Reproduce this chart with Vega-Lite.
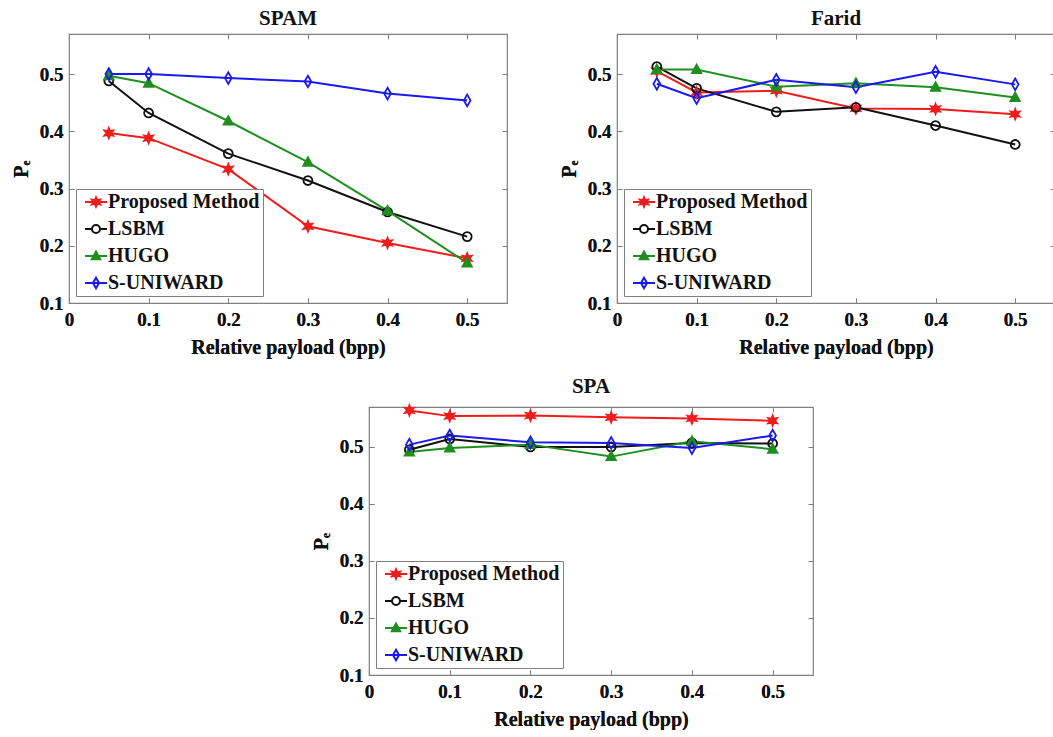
{
  "$schema": "https://vega.github.io/schema/vega-lite/v6.json",
  "padding": {"left": 10, "top": 6, "right": 0, "bottom": 0},
  "background": "white",
  "data": {"values": [
    {"panel":"SPAM","method":"Proposed Method","payload":0.05,"pe":0.397},
    {"panel":"SPAM","method":"Proposed Method","payload":0.1,"pe":0.388},
    {"panel":"SPAM","method":"Proposed Method","payload":0.2,"pe":0.334},
    {"panel":"SPAM","method":"Proposed Method","payload":0.3,"pe":0.234},
    {"panel":"SPAM","method":"Proposed Method","payload":0.4,"pe":0.205},
    {"panel":"SPAM","method":"Proposed Method","payload":0.5,"pe":0.178},
    {"panel":"SPAM","method":"LSBM","payload":0.05,"pe":0.488},
    {"panel":"SPAM","method":"LSBM","payload":0.1,"pe":0.432},
    {"panel":"SPAM","method":"LSBM","payload":0.2,"pe":0.361},
    {"panel":"SPAM","method":"LSBM","payload":0.3,"pe":0.314},
    {"panel":"SPAM","method":"LSBM","payload":0.4,"pe":0.259},
    {"panel":"SPAM","method":"LSBM","payload":0.5,"pe":0.216},
    {"panel":"SPAM","method":"HUGO","payload":0.05,"pe":0.497},
    {"panel":"SPAM","method":"HUGO","payload":0.1,"pe":0.484},
    {"panel":"SPAM","method":"HUGO","payload":0.2,"pe":0.418},
    {"panel":"SPAM","method":"HUGO","payload":0.3,"pe":0.346},
    {"panel":"SPAM","method":"HUGO","payload":0.4,"pe":0.261},
    {"panel":"SPAM","method":"HUGO","payload":0.5,"pe":0.170},
    {"panel":"SPAM","method":"S-UNIWARD","payload":0.05,"pe":0.500},
    {"panel":"SPAM","method":"S-UNIWARD","payload":0.1,"pe":0.500},
    {"panel":"SPAM","method":"S-UNIWARD","payload":0.2,"pe":0.493},
    {"panel":"SPAM","method":"S-UNIWARD","payload":0.3,"pe":0.487},
    {"panel":"SPAM","method":"S-UNIWARD","payload":0.4,"pe":0.466},
    {"panel":"SPAM","method":"S-UNIWARD","payload":0.5,"pe":0.454},
    {"panel":"Farid","method":"Proposed Method","payload":0.05,"pe":0.505},
    {"panel":"Farid","method":"Proposed Method","payload":0.1,"pe":0.468},
    {"panel":"Farid","method":"Proposed Method","payload":0.2,"pe":0.471},
    {"panel":"Farid","method":"Proposed Method","payload":0.3,"pe":0.440},
    {"panel":"Farid","method":"Proposed Method","payload":0.4,"pe":0.439},
    {"panel":"Farid","method":"Proposed Method","payload":0.5,"pe":0.430},
    {"panel":"Farid","method":"LSBM","payload":0.05,"pe":0.513},
    {"panel":"Farid","method":"LSBM","payload":0.1,"pe":0.475},
    {"panel":"Farid","method":"LSBM","payload":0.2,"pe":0.434},
    {"panel":"Farid","method":"LSBM","payload":0.3,"pe":0.442},
    {"panel":"Farid","method":"LSBM","payload":0.4,"pe":0.410},
    {"panel":"Farid","method":"LSBM","payload":0.5,"pe":0.377},
    {"panel":"Farid","method":"HUGO","payload":0.05,"pe":0.508},
    {"panel":"Farid","method":"HUGO","payload":0.1,"pe":0.508},
    {"panel":"Farid","method":"HUGO","payload":0.2,"pe":0.478},
    {"panel":"Farid","method":"HUGO","payload":0.3,"pe":0.484},
    {"panel":"Farid","method":"HUGO","payload":0.4,"pe":0.477},
    {"panel":"Farid","method":"HUGO","payload":0.5,"pe":0.459},
    {"panel":"Farid","method":"S-UNIWARD","payload":0.05,"pe":0.483},
    {"panel":"Farid","method":"S-UNIWARD","payload":0.1,"pe":0.458},
    {"panel":"Farid","method":"S-UNIWARD","payload":0.2,"pe":0.490},
    {"panel":"Farid","method":"S-UNIWARD","payload":0.3,"pe":0.477},
    {"panel":"Farid","method":"S-UNIWARD","payload":0.4,"pe":0.504},
    {"panel":"Farid","method":"S-UNIWARD","payload":0.5,"pe":0.482},
    {"panel":"SPA","method":"Proposed Method","payload":0.05,"pe":0.564},
    {"panel":"SPA","method":"Proposed Method","payload":0.1,"pe":0.554},
    {"panel":"SPA","method":"Proposed Method","payload":0.2,"pe":0.555},
    {"panel":"SPA","method":"Proposed Method","payload":0.3,"pe":0.552},
    {"panel":"SPA","method":"Proposed Method","payload":0.4,"pe":0.550},
    {"panel":"SPA","method":"Proposed Method","payload":0.5,"pe":0.546},
    {"panel":"SPA","method":"LSBM","payload":0.05,"pe":0.495},
    {"panel":"SPA","method":"LSBM","payload":0.1,"pe":0.514},
    {"panel":"SPA","method":"LSBM","payload":0.2,"pe":0.500},
    {"panel":"SPA","method":"LSBM","payload":0.3,"pe":0.500},
    {"panel":"SPA","method":"LSBM","payload":0.4,"pe":0.507},
    {"panel":"SPA","method":"LSBM","payload":0.5,"pe":0.506},
    {"panel":"SPA","method":"HUGO","payload":0.05,"pe":0.491},
    {"panel":"SPA","method":"HUGO","payload":0.1,"pe":0.498},
    {"panel":"SPA","method":"HUGO","payload":0.2,"pe":0.504},
    {"panel":"SPA","method":"HUGO","payload":0.3,"pe":0.483},
    {"panel":"SPA","method":"HUGO","payload":0.4,"pe":0.510},
    {"panel":"SPA","method":"HUGO","payload":0.5,"pe":0.496},
    {"panel":"SPA","method":"S-UNIWARD","payload":0.05,"pe":0.504},
    {"panel":"SPA","method":"S-UNIWARD","payload":0.1,"pe":0.520},
    {"panel":"SPA","method":"S-UNIWARD","payload":0.2,"pe":0.508},
    {"panel":"SPA","method":"S-UNIWARD","payload":0.3,"pe":0.507},
    {"panel":"SPA","method":"S-UNIWARD","payload":0.4,"pe":0.498},
    {"panel":"SPA","method":"S-UNIWARD","payload":0.5,"pe":0.520}
  ]},
  "resolve": {"scale": {"color": "independent"}, "legend": {"color": "independent"}},
  "spacing": 17,
  "vconcat": [
    {
      "spacing": 49,
      "resolve": {"scale": {"color": "independent"}, "legend": {"color": "independent"}},
      "hconcat": [
        {
          "title": {"text": "SPAM"},
          "width": 438, "height": 269,
          "transform": [{"filter": "datum.panel === 'SPAM'"}],
          "encoding": {
            "x": {"field": "payload", "type": "quantitative", "scale": {"domain": [0, 0.55], "nice": false, "zero": false}, "axis": {"values": [0, 0.1, 0.2, 0.3, 0.4, 0.5], "format": "~g", "title": "Relative payload (bpp)"}},
            "y": {"field": "pe", "type": "quantitative", "scale": {"domain": [0.1, 0.57], "nice": false, "zero": false}, "axis": {"values": [0.1, 0.2, 0.3, 0.4, 0.5], "format": ".1f", "title": "Pₑ"}}
          },
          "resolve": {"axis": {"x": "independent", "y": "independent"}},
          "layer": [
            {"mark": {"type": "point", "opacity": 0},
             "encoding": {
               "x": {"field": "payload", "type": "quantitative", "axis": {"orient": "top", "values": [0, 0.1, 0.2, 0.3, 0.4, 0.5], "labels": false, "title": null}},
               "y": {"field": "pe", "type": "quantitative", "axis": {"orient": "right", "values": [0.1, 0.2, 0.3, 0.4, 0.5], "labels": false, "title": null}}
             }},
            {"mark": {"type": "line", "strokeWidth": 2},
             "encoding": {"color": {"field": "method", "type": "nominal",
               "scale": {"domain": ["Proposed Method", "LSBM", "HUGO", "S-UNIWARD"], "range": ["#f01c1c", "#111111", "#1f8f1f", "#1a1aee"]},
               "legend": {"orient": "bottom-left", "offset": 7, "title": null, "direction": "vertical",
                 "encode": {"symbols": {"update": {
                   "shape": {"signal": "datum.value === 'Proposed Method' ? 'M-2.75,0H2.75M0,-1.15L0.27,-0.46L1,-0.58L0.53,0L1,0.58L0.27,0.46L0,1.15L-0.27,0.46L-1,0.58L-0.53,0L-1,-0.58L-0.27,-0.46Z' : datum.value === 'LSBM' ? 'M-2.75,0H-1M1,0H2.75M-1,0A1,1 0 1,1 1,0A1,1 0 1,1 -1,0Z' : datum.value === 'HUGO' ? 'M-2.75,0H2.75M0,-1.1L1.05,0.8L-1.05,0.8Z' : 'M-2.75,0H2.75M0,-1.3L0.75,0L0,1.3L-0.75,0Z'"},
                   "fill": {"signal": "datum.value === 'Proposed Method' ? '#f01c1c' : datum.value === 'HUGO' ? '#1f8f1f' : 'transparent'"},
                   "stroke": {"signal": "datum.value === 'Proposed Method' ? '#f01c1c' : datum.value === 'LSBM' ? '#111111' : datum.value === 'HUGO' ? '#1f8f1f' : '#1a1aee'"},
                   "strokeWidth": {"value": 2},
                   "opacity": {"value": 1}
                 }}}}}}},
            {"mark": {"type": "point", "filled": false, "strokeWidth": 1.8, "size": 80, "opacity": 1},
             "encoding": {
               "stroke": {"field": "method", "type": "nominal", "scale": {"domain": ["Proposed Method", "LSBM", "HUGO", "S-UNIWARD"], "range": ["#f01c1c", "#111111", "#1f8f1f", "#1a1aee"]}, "legend": null},
               "fill": {"field": "method", "type": "nominal", "scale": {"domain": ["Proposed Method", "LSBM", "HUGO", "S-UNIWARD"], "range": ["#f01c1c", "transparent", "#1f8f1f", "transparent"]}, "legend": null},
               "shape": {"field": "method", "type": "nominal", "scale": {"domain": ["Proposed Method", "LSBM", "HUGO", "S-UNIWARD"], "range": ["M0,-1.15L0.27,-0.46L1,-0.58L0.53,0L1,0.58L0.27,0.46L0,1.15L-0.27,0.46L-1,0.58L-0.53,0L-1,-0.58L-0.27,-0.46Z", "M-1,0A1,1 0 1,1 1,0A1,1 0 1,1 -1,0Z", "M0,-1.1L1.05,0.8L-1.05,0.8Z", "M0,-1.3L0.75,0L0,1.3L-0.75,0Z"]}, "legend": null}
             }}
          ]
        },
        {
          "title": {"text": "Farid"},
          "width": 438, "height": 269,
          "transform": [{"filter": "datum.panel === 'Farid'"}],
          "encoding": {
            "x": {"field": "payload", "type": "quantitative", "scale": {"domain": [0, 0.55], "nice": false, "zero": false}, "axis": {"values": [0, 0.1, 0.2, 0.3, 0.4, 0.5], "format": "~g", "title": "Relative payload (bpp)"}},
            "y": {"field": "pe", "type": "quantitative", "scale": {"domain": [0.1, 0.57], "nice": false, "zero": false}, "axis": {"values": [0.1, 0.2, 0.3, 0.4, 0.5], "format": ".1f", "title": "Pₑ"}}
          },
          "resolve": {"axis": {"x": "independent", "y": "independent"}},
          "layer": [
            {"mark": {"type": "point", "opacity": 0},
             "encoding": {
               "x": {"field": "payload", "type": "quantitative", "axis": {"orient": "top", "values": [0, 0.1, 0.2, 0.3, 0.4, 0.5], "labels": false, "title": null}},
               "y": {"field": "pe", "type": "quantitative", "axis": {"orient": "right", "values": [0.1, 0.2, 0.3, 0.4, 0.5], "labels": false, "title": null}}
             }},
            {"mark": {"type": "line", "strokeWidth": 2},
             "encoding": {"color": {"field": "method", "type": "nominal",
               "scale": {"domain": ["Proposed Method", "LSBM", "HUGO", "S-UNIWARD"], "range": ["#f01c1c", "#111111", "#1f8f1f", "#1a1aee"]},
               "legend": {"orient": "bottom-left", "offset": 7, "title": null, "direction": "vertical",
                 "encode": {"symbols": {"update": {
                   "shape": {"signal": "datum.value === 'Proposed Method' ? 'M-2.75,0H2.75M0,-1.15L0.27,-0.46L1,-0.58L0.53,0L1,0.58L0.27,0.46L0,1.15L-0.27,0.46L-1,0.58L-0.53,0L-1,-0.58L-0.27,-0.46Z' : datum.value === 'LSBM' ? 'M-2.75,0H-1M1,0H2.75M-1,0A1,1 0 1,1 1,0A1,1 0 1,1 -1,0Z' : datum.value === 'HUGO' ? 'M-2.75,0H2.75M0,-1.1L1.05,0.8L-1.05,0.8Z' : 'M-2.75,0H2.75M0,-1.3L0.75,0L0,1.3L-0.75,0Z'"},
                   "fill": {"signal": "datum.value === 'Proposed Method' ? '#f01c1c' : datum.value === 'HUGO' ? '#1f8f1f' : 'transparent'"},
                   "stroke": {"signal": "datum.value === 'Proposed Method' ? '#f01c1c' : datum.value === 'LSBM' ? '#111111' : datum.value === 'HUGO' ? '#1f8f1f' : '#1a1aee'"},
                   "strokeWidth": {"value": 2},
                   "opacity": {"value": 1}
                 }}}}}}},
            {"mark": {"type": "point", "filled": false, "strokeWidth": 1.8, "size": 80, "opacity": 1},
             "encoding": {
               "stroke": {"field": "method", "type": "nominal", "scale": {"domain": ["Proposed Method", "LSBM", "HUGO", "S-UNIWARD"], "range": ["#f01c1c", "#111111", "#1f8f1f", "#1a1aee"]}, "legend": null},
               "fill": {"field": "method", "type": "nominal", "scale": {"domain": ["Proposed Method", "LSBM", "HUGO", "S-UNIWARD"], "range": ["#f01c1c", "transparent", "#1f8f1f", "transparent"]}, "legend": null},
               "shape": {"field": "method", "type": "nominal", "scale": {"domain": ["Proposed Method", "LSBM", "HUGO", "S-UNIWARD"], "range": ["M0,-1.15L0.27,-0.46L1,-0.58L0.53,0L1,0.58L0.27,0.46L0,1.15L-0.27,0.46L-1,0.58L-0.53,0L-1,-0.58L-0.27,-0.46Z", "M-1,0A1,1 0 1,1 1,0A1,1 0 1,1 -1,0Z", "M0,-1.1L1.05,0.8L-1.05,0.8Z", "M0,-1.3L0.75,0L0,1.3L-0.75,0Z"]}, "legend": null}
             }}
          ]
        }
      ]
    },
    {
      "spacing": 0,
      "resolve": {"scale": {"color": "independent"}, "legend": {"color": "independent"}},
      "hconcat": [
        {
          "width": 241, "height": 10,
          "data": {"values": [{"blank": 1}]},
          "mark": {"type": "text", "text": " "},
          "view": {"stroke": null}
        },
        {
          "title": {"text": "SPA"},
          "width": 444, "height": 268,
          "transform": [{"filter": "datum.panel === 'SPA'"}],
          "encoding": {
            "x": {"field": "payload", "type": "quantitative", "scale": {"domain": [0, 0.55], "nice": false, "zero": false}, "axis": {"values": [0, 0.1, 0.2, 0.3, 0.4, 0.5], "format": "~g", "title": "Relative payload (bpp)"}},
            "y": {"field": "pe", "type": "quantitative", "scale": {"domain": [0.1, 0.57], "nice": false, "zero": false}, "axis": {"values": [0.1, 0.2, 0.3, 0.4, 0.5], "format": ".1f", "title": "Pₑ"}}
          },
          "resolve": {"axis": {"x": "independent", "y": "independent"}},
          "layer": [
            {"mark": {"type": "point", "opacity": 0},
             "encoding": {
               "x": {"field": "payload", "type": "quantitative", "axis": {"orient": "top", "values": [0, 0.1, 0.2, 0.3, 0.4, 0.5], "labels": false, "title": null}},
               "y": {"field": "pe", "type": "quantitative", "axis": {"orient": "right", "values": [0.1, 0.2, 0.3, 0.4, 0.5], "labels": false, "title": null}}
             }},
            {"mark": {"type": "line", "strokeWidth": 2},
             "encoding": {"color": {"field": "method", "type": "nominal",
               "scale": {"domain": ["Proposed Method", "LSBM", "HUGO", "S-UNIWARD"], "range": ["#f01c1c", "#111111", "#1f8f1f", "#1a1aee"]},
               "legend": {"orient": "bottom-left", "offset": 7, "title": null, "direction": "vertical",
                 "encode": {"symbols": {"update": {
                   "shape": {"signal": "datum.value === 'Proposed Method' ? 'M-2.75,0H2.75M0,-1.15L0.27,-0.46L1,-0.58L0.53,0L1,0.58L0.27,0.46L0,1.15L-0.27,0.46L-1,0.58L-0.53,0L-1,-0.58L-0.27,-0.46Z' : datum.value === 'LSBM' ? 'M-2.75,0H-1M1,0H2.75M-1,0A1,1 0 1,1 1,0A1,1 0 1,1 -1,0Z' : datum.value === 'HUGO' ? 'M-2.75,0H2.75M0,-1.1L1.05,0.8L-1.05,0.8Z' : 'M-2.75,0H2.75M0,-1.3L0.75,0L0,1.3L-0.75,0Z'"},
                   "fill": {"signal": "datum.value === 'Proposed Method' ? '#f01c1c' : datum.value === 'HUGO' ? '#1f8f1f' : 'transparent'"},
                   "stroke": {"signal": "datum.value === 'Proposed Method' ? '#f01c1c' : datum.value === 'LSBM' ? '#111111' : datum.value === 'HUGO' ? '#1f8f1f' : '#1a1aee'"},
                   "strokeWidth": {"value": 2},
                   "opacity": {"value": 1}
                 }}}}}}},
            {"mark": {"type": "point", "filled": false, "strokeWidth": 1.8, "size": 80, "opacity": 1},
             "encoding": {
               "stroke": {"field": "method", "type": "nominal", "scale": {"domain": ["Proposed Method", "LSBM", "HUGO", "S-UNIWARD"], "range": ["#f01c1c", "#111111", "#1f8f1f", "#1a1aee"]}, "legend": null},
               "fill": {"field": "method", "type": "nominal", "scale": {"domain": ["Proposed Method", "LSBM", "HUGO", "S-UNIWARD"], "range": ["#f01c1c", "transparent", "#1f8f1f", "transparent"]}, "legend": null},
               "shape": {"field": "method", "type": "nominal", "scale": {"domain": ["Proposed Method", "LSBM", "HUGO", "S-UNIWARD"], "range": ["M0,-1.15L0.27,-0.46L1,-0.58L0.53,0L1,0.58L0.27,0.46L0,1.15L-0.27,0.46L-1,0.58L-0.53,0L-1,-0.58L-0.27,-0.46Z", "M-1,0A1,1 0 1,1 1,0A1,1 0 1,1 -1,0Z", "M0,-1.1L1.05,0.8L-1.05,0.8Z", "M0,-1.3L0.75,0L0,1.3L-0.75,0Z"]}, "legend": null}
             }}
          ]
        }
      ]
    }
  ],
  "config": {
    "font": "Liberation Serif",
    "view": {"stroke": "#808080", "strokeWidth": 1.2},
    "title": {"font": "Liberation Serif", "fontSize": 21, "fontWeight": "bold", "color": "#111111", "anchor": "middle", "offset": 5},
    "axis": {
      "labelFont": "Liberation Serif", "labelFontSize": 19, "labelFontWeight": "bold", "labelColor": "#111111",
      "titleFont": "Liberation Serif", "titleFontSize": 20, "titleFontWeight": "bold", "titleColor": "#111111",
      "domain": false, "grid": false, "ticks": true, "tickSize": -5, "tickColor": "#808080",
      "labelFlush": false, "labelOverlap": false
    },
    "axisY": {"titlePadding": 8, "labelPadding": 11},
    "axisX": {"titlePadding": 8, "labelPadding": 12},
    "legend": {
      "labelFont": "Liberation Serif", "labelFontSize": 20, "labelFontWeight": "bold", "labelColor": "#111111",
      "padding": 3, "strokeColor": "#808080", "fillColor": "white", "rowPadding": 7,
      "symbolSize": 64, "symbolOffset": 7, "labelOffset": 2, "labelLimit": 300, "symbolStrokeWidth": 2
    }
  }
}
